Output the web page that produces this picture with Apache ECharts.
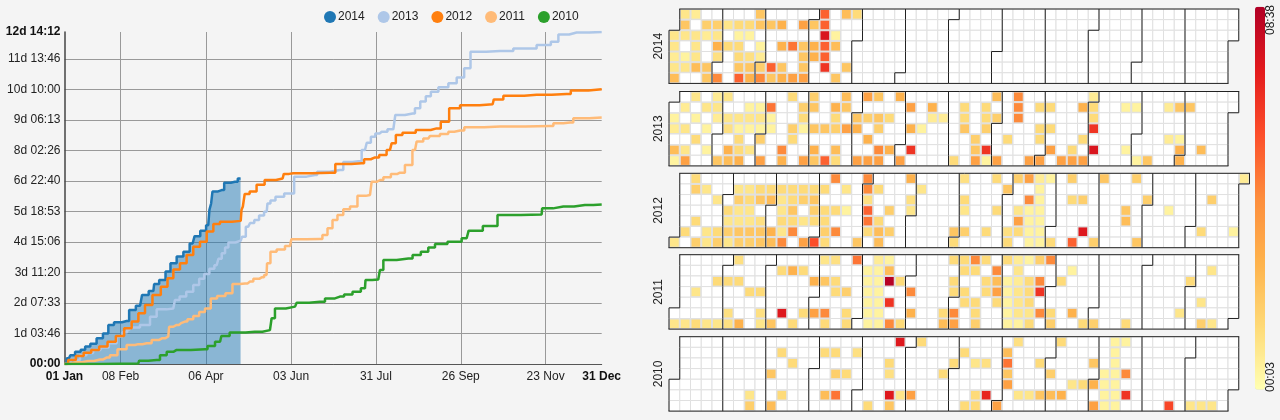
<!DOCTYPE html>
<html>
<head>
<meta charset="utf-8">
<title>Cumulative time by year</title>
<script src="https://cdn.jsdelivr.net/npm/echarts@6/dist/echarts.min.js"></script>
<style>
  html, body { margin: 0; padding: 0; background: #f4f4f4; }
  #main { width: 1280px; height: 420px; }
</style>
</head>
<body>
<div id="main"></div>
<script>
const years = ['2014', '2013', '2012', '2011', '2010'];
const yearColors = ['#1f77b4', '#aec7e8', '#ff7f0e', '#ffbb78', '#2ca02c'];

// x axis is day of the year, y axis is thousands of seconds
const xTickDays = [0, 38, 95.8, 153.5, 211, 268.5, 326, 364];
const xTickLabels = ['01 Jan', '08 Feb', '06 Apr', '03 Jun', '31 Jul', '26 Sep', '23 Nov', '31 Dec'];
const yMax = 1087.92;

const line2014 = [[0,0],[3,19],[4.9,29],[9.4,40],[12.5,47],[15.5,57],[19.5,66],[24,84],[28.1,100],[31.3,128],[35.8,137],[42.1,141],
  [45.5,177],[51.2,191],[53.9,226],[60.2,239],[61.3,262],[67,275],[69.9,303],[73.7,330],[78.3,352],[82.8,368],[86.8,395],
  [89.5,419],[94.5,437],[97.4,455],[99,505],[99.7,526],[100.8,565],[106.5,570],[109.9,594],[115.5,597],[119.3,608]];
const line2013 = [[0,0],[8.2,13],[12.8,29],[17,36],[21.8,46],[27,54],[33.1,68],[37.6,90],[41,104],[44,113],[46.6,120],[55.7,128],[60.2,155],[64.7,179],[73.7,182],
  [76,210],[80,221],[85,237],[89.5,259],[93,279],[96.3,295],[100,312],[103.1,324],[105.5,345],[107.6,363],[110,382],[112.1,398],[119.4,404],[121.2,417],[124.5,450],[127,462],[130.2,472],
  [133.5,487],[137,499],[138.1,526],[141,536],[144.9,548],[152.8,559],[158.4,614],[169.7,619],[172.7,630],[186.6,636],[191.2,662],[199.1,664],
  [203.6,701],[206,725],[209.2,745],[212,755],[214.9,761],[222.8,769],[225.5,816],[235.9,821],[239,838],[243.1,860],[246.5,877],[250,892],[256.7,907],[263.5,920],
  [268,939],[273.6,969],[276.6,1023],[295.1,1026],[313.1,1034],[326.7,1045],[332.4,1056],[336.9,1080],[347,1086],[364,1087.92]];
const line2012 = [[0,0],[4.9,13],[10.5,26],[15.5,37],[20.7,46],[26.3,57],[32,73],[37.6,92],[43.2,117],[47.8,139],[52.3,166],
  [56.8,193],[62.4,226],[68.1,253],[71.5,281],[76,310],[80.5,330],[85,357],[89.5,384],[94.1,401],[98.6,434],[103.1,459],
  [107.6,466],[119.4,469],[120.5,505],[121.2,516],[123,557],[127.9,565],[132.4,587],[138.8,603],[147.8,608],[149.4,623],
  [155,625],[179.9,627],[187.1,655],[201.3,658],[204.7,671],[210.4,677],[216,685],[220.5,701],[222.8,723],[226.2,750],
  [231.8,758],[244.2,767],[252.1,772],[257.8,794],[263.5,838],[272.5,848],[290.1,851],[291.7,867],[303,879],[320,882],[340.2,885],
  [345.9,896],[364,900]];
const line2011 = [[0,0],[8,6],[16,10],[24,15],[28.5,21],[33.1,29],[38.7,48],[45.5,62],[50,65],[55.7,68],[62.4,79],[66,84],[70.3,90],[71.5,122],[76,128],[79,134],[81.6,139],[85,147],[89.5,157],
  [93,170],[97.4,182],[100.8,215],[106,223],[112.1,232],[115.5,262],[122.3,264],[125.7,270],[130.2,279],[133.6,284],[136.9,292],[137.6,330],
  [141.5,368],[146,375],[152.8,387],[154.6,409],[173,410],[176.5,423],[179.9,445],[183.3,472],[186.6,488],[191.2,507],[195.7,516],[201.3,551],
  [207,554],[209.2,597],[213.8,603],[218.3,612],[224,623],[227.3,627],[234,652],[237.5,701],[239.7,729],[246.5,739],
  [248.8,747],[260,754],[260.2,761],[268.1,765],[273.7,776],[295.1,778],[329,780],[333.5,789],[342.5,791],[347,805],[364,808]];
const line2010 = [[0,0],[50,2],[51.2,11],[62.4,13],[67,29],[71.5,40],[76,46],[95.2,48],[98.6,59],[105.4,73],[107.2,92],
  [116.6,103],[129,106],[139.2,111],[141.5,150],[143.7,182],[156.2,188],[158.4,201],[173.1,204],[179.9,215],[186.6,221],
  [192.3,228],[198,237],[203.6,248],[204.3,275],[212.6,277],[214.9,308],[217.2,341],[233,346],[238.7,357],[244.2,368],
  [248.8,382],[253.3,393],[265.7,401],[272.5,412],[275.2,437],[291.7,452],[295.1,488],[323.3,490],[324,510],[338,516],
  [352.6,521],[364,523]];

// [week of the year, weekday (0 = Monday), minutes]
const heat2014 = [
  [1,0,60],[2,0,45],[8,0,130],[14,0,320],[16,0,150],[17,0,85],
  [1,1,130],[3,1,110],[4,1,110],[5,1,60],[6,1,85],[7,1,85],[8,1,130],[9,1,130],[10,1,175],[12,1,215],[13,1,130],[14,1,320],
  [0,2,60],[1,2,60],[2,2,60],[3,2,45],[4,2,60],[6,2,30],[7,2,30],[14,2,450],[15,2,30],
  [0,3,60],[2,3,60],[4,3,175],[5,3,85],[6,3,85],[8,3,30],[10,3,175],[11,3,295],[12,3,130],[13,3,175],[14,3,320],[15,3,150],
  [0,4,45],[1,4,30],[2,4,60],[4,4,72],[6,4,85],[7,4,72],[8,4,45],[12,4,130],[13,4,175],[14,4,320],
  [0,5,60],[1,5,60],[2,5,150],[3,5,130],[6,5,130],[7,5,130],[8,5,110],[9,5,320],[10,5,130],[12,5,130],[14,5,390],[16,5,130],
  [0,6,150],[3,6,130],[4,6,265],[6,6,320],[7,6,175],[8,6,265],[9,6,130],[10,6,175],[11,6,215],[12,6,215],[15,6,130]
];
const heat2013 = [
  [2,0,60],[4,0,45],[5,0,60],[11,0,85],[13,0,110],[16,0,150],[18,0,215],[19,0,130],[21,0,175],[30,0,150],[32,0,265],[39,0,45],
  [1,1,45],[3,1,60],[4,1,60],[7,1,30],[8,1,30],[9,1,295],[12,1,110],[13,1,130],[15,1,175],[16,1,130],[22,1,215],[24,1,175],
  [27,1,85],[29,1,85],[32,1,265],[34,1,85],[35,1,85],[38,1,175],[39,1,85],[42,1,30],[43,1,30],[46,1,45],[47,1,130],[48,1,130],
  [0,2,30],[2,2,30],[4,2,45],[5,2,60],[6,2,60],[7,2,60],[8,2,60],[9,2,30],[12,2,85],[15,2,85],[17,2,130],[18,2,110],[19,2,130],
  [20,2,85],[24,2,45],[25,2,45],[27,2,85],[29,2,85],[30,2,110],[32,2,265],[39,2,85],
  [0,3,45],[1,3,60],[3,3,30],[5,3,72],[6,3,30],[7,3,30],[8,3,30],[9,3,30],[11,3,110],[12,3,30],[13,3,130],[14,3,130],[15,3,110],
  [16,3,215],[17,3,175],[19,3,110],[22,3,175],[23,3,30],[27,3,130],[29,3,110],[34,3,85],[35,3,85],[39,3,390],
  [2,4,85],[6,4,85],[8,4,110],[11,4,85],[18,4,175],[28,4,110],[31,4,85],[34,4,85],[38,4,85],[46,4,45],[47,4,30],
  [0,5,150],[1,5,60],[3,5,30],[5,5,175],[6,5,85],[7,5,60],[10,5,265],[13,5,175],[15,5,150],[19,5,265],[20,5,175],[22,5,390],
  [28,5,130],[29,5,390],[35,5,215],[37,5,85],[39,5,450],[42,5,30],[47,5,175],[49,5,150],
  [0,6,30],[1,6,215],[4,6,130],[5,6,150],[6,6,175],[8,6,215],[10,6,175],[12,6,215],[13,6,130],[14,6,320],[15,6,85],[17,6,215],
  [18,6,215],[19,6,215],[21,6,215],[26,6,85],[28,6,215],[29,6,30],[30,6,215],[33,6,215],[34,6,215],[36,6,215],[37,6,215],[38,6,215],
  [43,6,30],[44,6,130],[47,6,175]
];
const heat2012 = [
  [2,0,85],[15,0,265],[18,0,265],[22,0,175],[27,0,72],[30,0,85],[32,0,110],[33,0,215],[34,0,45],[35,0,30],[37,0,110],[40,0,130],[43,0,110],[53,0,45],
  [2,1,110],[3,1,60],[6,1,60],[7,1,60],[8,1,85],[9,1,85],[10,1,85],[11,1,85],[12,1,85],[13,1,85],[14,1,85],[16,1,60],[18,1,265],
  [19,1,85],[23,1,60],[31,1,130],[34,1,30],
  [4,2,60],[6,2,110],[7,2,85],[8,2,130],[9,2,150],[10,2,60],[11,2,85],[12,2,110],[13,2,130],[18,2,72],[22,2,72],[27,2,85],
  [33,2,265],[34,2,30],[37,2,85],[38,2,110],[44,2,110],[50,2,110],
  [5,3,85],[6,3,60],[7,3,60],[10,3,60],[11,3,130],[13,3,110],[14,3,85],[15,3,85],[16,3,30],[18,3,320],[20,3,110],[22,3,60],
  [27,3,60],[30,3,85],[32,3,60],[33,3,30],[34,3,30],[42,3,130],[46,3,30],
  [2,4,85],[5,4,60],[6,4,60],[7,4,60],[8,4,72],[10,4,85],[11,4,85],[12,4,60],[13,4,85],[14,4,85],[18,4,295],[19,4,85],
  [32,4,215],[33,4,30],[34,4,30],[42,4,150],
  [1,5,85],[3,5,60],[4,5,85],[5,5,110],[6,5,130],[7,5,130],[8,5,130],[9,5,175],[10,5,60],[11,5,265],[14,5,110],[15,5,265],[18,5,85],
  [19,5,150],[20,5,110],[26,5,130],[27,5,110],[29,5,85],[31,5,72],[32,5,85],[33,5,30],[34,5,30],[38,5,440],[49,5,85],[52,5,30],
  [0,6,60],[2,6,110],[3,6,60],[4,6,110],[5,6,60],[6,6,110],[7,6,110],[8,6,130],[9,6,150],[10,6,265],[12,6,215],[13,6,350],[14,6,85],
  [17,6,130],[19,6,150],[26,6,85],[31,6,85],[33,6,30],[34,6,30],[35,6,85],[37,6,320],[39,6,110],[43,6,130]
];
const heat2011 = [
  [6,0,72],[14,0,60],[15,0,72],[17,0,295],[19,0,45],[20,0,30],[26,0,85],[27,0,85],[28,0,265],[29,0,85],[31,0,85],[32,0,45],[33,0,30],[34,0,110],[35,0,265],
  [10,1,85],[11,1,175],[12,1,85],[18,1,30],[19,1,30],[20,1,150],[27,1,85],[28,1,85],[30,1,265],[32,1,60],[37,1,30],[50,1,60],
  [4,2,85],[5,2,85],[6,2,85],[13,2,175],[14,2,130],[15,2,85],[18,2,30],[19,2,30],[20,2,510],[21,2,85],[26,2,85],[29,2,85],[30,2,150],
  [31,2,30],[32,2,45],[33,2,85],[34,2,265],[36,2,85],[48,2,85],
  [2,3,60],[7,3,85],[8,3,85],[15,3,85],[16,3,110],[18,3,30],[19,3,30],[22,3,265],[26,3,85],[27,3,85],[29,3,85],[30,3,215],[31,3,30],[32,3,60],[33,3,85],[34,3,390],
  [18,4,30],[19,4,30],[20,4,390],[27,4,85],[28,4,85],[30,4,85],[31,4,30],[32,4,60],[33,4,85],[49,4,60],
  [5,5,72],[8,5,72],[10,5,440],[12,5,85],[13,5,215],[14,5,265],[16,5,85],[18,5,30],[19,5,30],[22,5,175],[25,5,85],[26,5,265],[28,5,85],
  [31,5,30],[32,5,60],[33,5,60],[34,5,265],[35,5,85],[37,5,175],[47,5,60],
  [0,6,60],[1,6,60],[2,6,85],[3,6,60],[4,6,60],[5,6,72],[6,6,175],[8,6,60],[9,6,130],[11,6,85],[14,6,85],[16,6,85],[18,6,30],[19,6,30],[20,6,265],[21,6,85],
  [25,6,150],[26,6,215],[28,6,110],[31,6,30],[32,6,30],[33,6,85],[35,6,110],[38,6,85],[39,6,110],[42,6,85],[49,6,110],[50,6,60]
];
const heat2010 = [
  [21,0,440],[23,0,85],[32,0,72],[36,0,85],[41,0,30],[42,0,30],
  [10,1,85],[14,1,85],[15,1,85],[17,1,72],[27,1,85],[31,1,150],[41,1,30],
  [11,2,85],[20,2,85],[26,2,85],[28,2,60],[29,2,72],[31,2,295],[34,2,85],[39,2,130],[41,2,30],
  [9,3,130],[15,3,110],[16,3,85],[20,3,72],[25,3,85],[31,3,130],[35,3,110],[40,3,30],[41,3,30],[42,3,265],
  [31,4,215],[37,4,60],[38,4,85],[39,4,175],[40,4,30],[41,4,30],
  [7,5,60],[10,5,85],[14,5,150],[15,5,295],[20,5,440],[21,5,60],[22,5,215],[28,5,85],[29,5,415],[32,5,60],[33,5,60],[34,5,130],
  [35,5,150],[36,5,175],[40,5,30],[41,5,30],[42,5,390],
  [7,6,110],[9,6,150],[18,6,85],[20,6,130],[27,6,85],[28,6,85],[30,6,215],[39,6,215],[40,6,30],[41,6,30],[46,6,360],[48,6,60],[49,6,60],[50,6,60]
];

const lines = [line2014, line2013, line2012, line2011, line2010];
const heats = [heat2014, heat2013, heat2012, heat2011, heat2010];
const calendarTops = [9, 91.5, 173.3, 254.7, 336.7];

const minValue = 3;
const maxValue = 518;
const labelFont = 'Liberation Sans';
const labelColor = '#222';

function weekToDate(year, week, weekday) {
  const first = new Date(Date.UTC(+year, 0, 1));
  const offset = (first.getUTCDay() + 6) % 7; // days since monday
  const d = new Date(Date.UTC(+year, 0, 1 - offset + week * 7 + weekday));
  return d.toISOString().slice(0, 10);
}

function pad(n) {
  return (n < 10 ? '0' : '') + n;
}

function formatDuration(kiloSeconds) {
  const total = Math.floor(Math.round(kiloSeconds * 1000) / 60);
  const days = Math.floor(total / 1440);
  const hours = Math.floor((total % 1440) / 60);
  const text = pad(hours) + ':' + pad(total % 60);
  return days > 0 ? days + 'd ' + text : text;
}

const chart = echarts.init(document.getElementById('main'), null, { renderer: 'canvas' });

const lineSeries = years.map((year, i) => ({
  name: year,
  type: 'line',
  step: 'middle',
  xAxisIndex: 0,
  yAxisIndex: 0,
  data: lines[i],
  showSymbol: false,
  symbol: 'circle',
  lineStyle: { color: yearColors[i], width: 2.5 },
  itemStyle: { color: yearColors[i] },
  areaStyle: i === 0 ? { color: yearColors[i], opacity: 0.5 } : undefined,
  silent: true
}));

const heatSeries = years.map((year, i) => ({
  name: 'heat ' + year,
  type: 'heatmap',
  coordinateSystem: 'calendar',
  calendarIndex: i,
  data: heats[i].map(c => [weekToDate(year, c[0], c[1]), c[2]]),
  itemStyle: { borderColor: '#e0e0e0', borderWidth: 1 },
  silent: true
}));

const calendars = years.map((year, i) => ({
  left: 669,
  top: calendarTops[i],
  cellSize: [10.75, 10.63],
  range: year,
  orient: 'horizontal',
  dayLabel: { show: false, firstDay: 1 },
  monthLabel: { show: false },
  yearLabel: {
    show: true,
    position: 'left',
    margin: 4,
    color: labelColor,
    fontFamily: labelFont,
    fontSize: 12,
    fontWeight: 'normal'
  },
  itemStyle: { color: '#fff', borderColor: '#e0e0e0', borderWidth: 1 },
  splitLine: { show: true, lineStyle: { color: '#222', width: 1 } }
}));

chart.setOption({
  backgroundColor: '#f4f4f4',
  animation: false,
  textStyle: { fontFamily: labelFont },
  legend: {
    data: years,
    left: 324,
    top: 11,
    padding: 0,
    icon: 'circle',
    itemWidth: 12,
    itemHeight: 12,
    itemGap: 13,
    textStyle: { color: labelColor, fontSize: 12, fontFamily: labelFont, padding: [0, 0, 0, -3] },
    selectedMode: false
  },
  grid: { left: 64.5, top: 32, width: 537.2, height: 332 },
  xAxis: {
    type: 'value',
    min: 0,
    max: 364,
    axisLine: { show: true, onZero: false, lineStyle: { color: '#555', width: 1 } },
    axisTick: { show: false, customValues: xTickDays },
    splitLine: { show: true, showMinLine: false, showMaxLine: false, lineStyle: { color: '#999', width: 1 } },
    axisLabel: {
      customValues: xTickDays,
      margin: 7,
      color: labelColor,
      fontSize: 12,
      fontFamily: labelFont,
      showMinLabel: true,
      showMaxLabel: true,
      hideOverlap: false,
      formatter: function (value) {
        const idx = xTickDays.indexOf(value);
        const text = xTickLabels[idx];
        return idx === 0 || idx === xTickDays.length - 1 ? '{b|' + text + '}' : text;
      },
      rich: { b: { fontWeight: 'bold', fontSize: 12, color: '#111', fontFamily: labelFont } }
    }
  },
  yAxis: {
    type: 'value',
    min: 0,
    max: yMax,
    interval: 100,
    axisLine: { show: true, lineStyle: { color: '#444', width: 1.5 } },
    axisTick: { show: false },
    splitLine: { show: true, showMinLine: false, showMaxLine: false, lineStyle: { color: '#999', width: 1 } },
    axisLabel: {
      margin: 4,
      color: labelColor,
      fontSize: 12,
      fontFamily: labelFont,
      showMinLabel: true,
      showMaxLabel: true,
      formatter: function (value) {
        const text = formatDuration(value);
        return value === 0 || value === yMax ? '{b|' + text + '}' : text;
      },
      rich: { b: { fontWeight: 'bold', fontSize: 12, color: '#111', fontFamily: labelFont } }
    }
  },
  calendar: calendars,
  visualMap: {
    type: 'continuous',
    seriesIndex: [5, 6, 7, 8, 9],
    min: minValue,
    max: maxValue,
    calculable: false,
    orient: 'vertical',
    left: 1255,
    top: 6.7,
    itemWidth: 10,
    itemHeight: 383,
    padding: 0,
    inRange: { color: ['#ffffb2', '#fed976', '#feb24c', '#fd8d3c', '#fc4e2a', '#e31a1c', '#b10026'] }
  },
  graphic: [
    { type: 'text', x: 1271, y: 20, rotation: Math.PI / 2, silent: true,
      style: { text: '08:38', align: 'center', verticalAlign: 'middle', fill: labelColor, font: '12px "Liberation Sans"' } },
    { type: 'text', x: 1271, y: 377, rotation: Math.PI / 2, silent: true,
      style: { text: '00:03', align: 'center', verticalAlign: 'middle', fill: labelColor, font: '12px "Liberation Sans"' } }
  ],
  series: lineSeries.concat(heatSeries)
});
</script>
</body>
</html>
